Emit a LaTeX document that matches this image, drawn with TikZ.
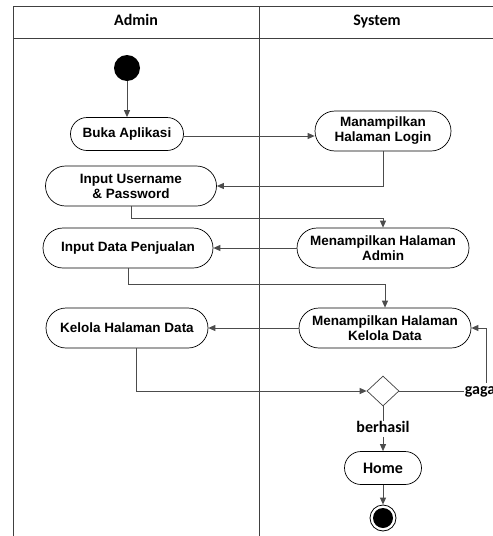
\documentclass[tikz,border=0pt]{standalone}
\usepackage{fontspec}
\setmainfont{Liberation Sans}
\newfontfamily\calibri{Carlito}
\usepackage{tikz}
\usetikzlibrary{
    positioning,
    arrows.meta,
    shapes.misc,
    shapes.geometric
}

\begin{document}
\begin{tikzpicture}[x=1pt, y=-1pt,
    act/.style={draw=black, line width=0.7pt, rounded rectangle, align=center,
        font=\fontsize{13.5}{15}\selectfont\bfseries, inner sep=0pt, minimum height=40pt},
    flow/.style={draw=black!70, line width=0.9pt, -{Triangle[length=7pt,width=6pt]}},
    link/.style={draw=black!70, line width=0.9pt},
    lane/.style={draw=black!75, line width=0.8pt},
    lbl/.style={font=\calibri\fontsize{16}{18}\selectfont\bfseries, inner sep=1pt,
        text height=11pt, text depth=3.5pt}]
    \useasboundingbox (0,0) rectangle (493,536);
    \clip (0,0) rectangle (493,536);
    % swimlane Admin / System
    \draw[lane] (13,560) -- (13,6) -- (520,6);
    \draw[lane] (13,38) -- (520,38);
    \draw[lane] (259,6) -- (259,560);
    \node[lbl] (laneadmin) at (136,22) {Admin};
    \node[lbl] (lanesystem) at (377,22) {System};

    % aktivitas
    \node[circle, fill=black, minimum size=26pt, inner sep=0pt] (start) at (127,68) {};
    \node[act, minimum width=113pt, minimum height=33pt] (buka) at (127,134) {Buka Aplikasi};
    \node[act, minimum width=136pt] (login) at (383,131) {Manampilkan\\Halaman Login};
    \node[act, minimum width=171pt] (user) at (131,186) {Input Username\\\& Password};
    \node[act, minimum width=172pt] (halamanadmin) at (383,248) {Menampilkan Halaman\\Admin};
    \node[act, minimum width=170pt] (input) at (128,248) {Input Data Penjualan};
    \node[act, minimum width=172pt] (kelolasys) at (385,328) {Menampilkan Halaman\\Kelola Data};
    \node[act, minimum width=162pt] (kelola) at (127,328) {Kelola Halaman Data};
    \node[diamond, draw=black!75, line width=0.7pt, minimum width=32pt, minimum height=30pt, inner sep=0pt] (cek) at (383,391) {};
    \node[lbl] (berhasil) at (383,429) {berhasil};
    \node[lbl] (gagal) at (482,391) {gagal};
    \node[act, font=\calibri\fontsize{16}{18}\selectfont\bfseries, minimum width=77pt, minimum height=33pt] (home) at (383,468) {Home};
    \node[circle, draw=black, line width=0.8pt, minimum size=26pt, inner sep=0pt] (end) at (383,518) {};
    \fill[black] (end.center) circle (10pt);

    % alur
    \draw[flow] (start) -- (buka);
    \draw[flow] ([yshift=-2pt]buka.east) -- ([yshift=-2pt]buka.east -| login.west);
    \draw[flow] (login.south) |- (user.east);
    \draw[flow] (user.south) -- ++(0,12) -| (halamanadmin.north);
    \draw[flow] (halamanadmin.west) -- (input.east);
    \draw[flow] (input.south) -- ++(0,16) -| (kelolasys.north);
    \draw[flow] (kelolasys.west) -- (kelola.east);
    \draw[flow] ([xshift=9pt]kelola.south) |- (cek.west);
    \draw[link] (cek.east) -- (gagal.west);
    \draw[flow] ([xshift=4pt]gagal.north) |- (kelolasys.east);
    \draw[link] (cek.south) -- (berhasil.north);
    \draw[flow] (berhasil.south) -- (home.north);
    \draw[flow] (home.south) -- (end.north);
\end{tikzpicture}
\end{document}
